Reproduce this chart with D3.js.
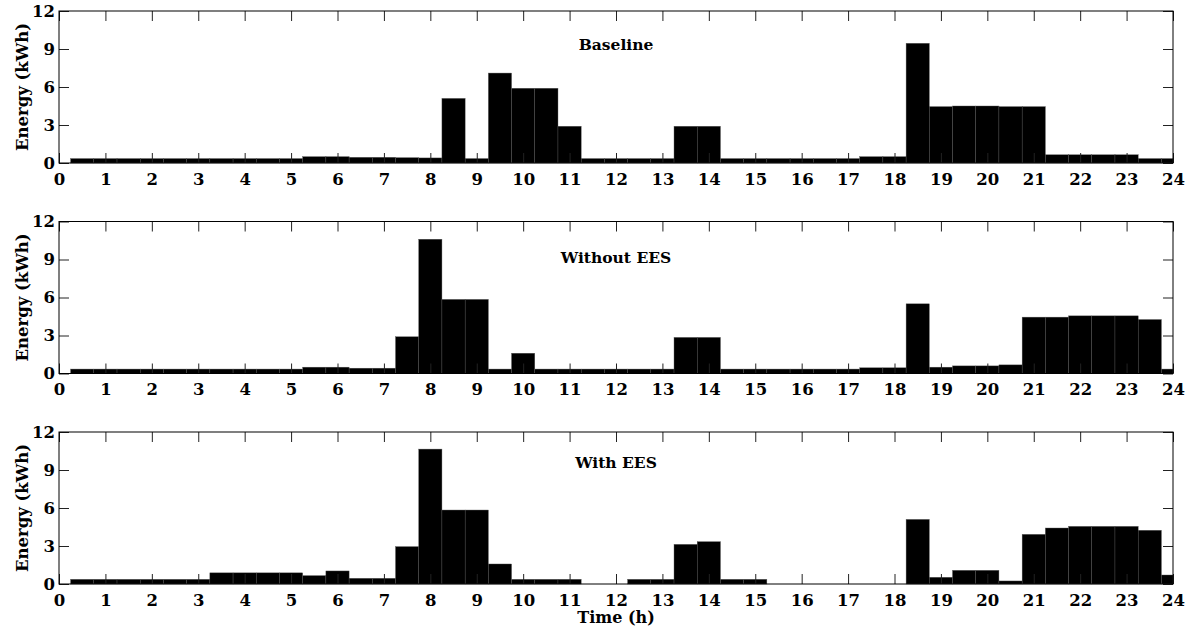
<!DOCTYPE html>
<html lang="en">
  <head>
    <meta charset="utf-8" />
    <title>Energy profiles</title>
    <script src="https://d3js.org/d3.v7.min.js"></script>
    <style>
      body { margin: 0; background: white; }
      text { font-family: "DejaVu Serif", serif; font-weight: bold; fill: black; }
    </style>
  </head>
  <body>
    <svg width="1192" height="634"></svg>
    <script type="text/javascript">
      // half-hour slots (bar centres, h)
      const hours = [0.5, 1, 1.5, 2, 2.5, 3, 3.5, 4, 4.5, 5, 5.5, 6, 6.5, 7, 7.5, 8,
        8.5, 9, 9.5, 10, 10.5, 11, 11.5, 12, 12.5, 13, 13.5, 14, 14.5, 15, 15.5, 16,
        16.5, 17, 17.5, 18, 18.5, 19, 19.5, 20, 20.5, 21, 21.5, 22, 22.5, 23, 23.5, 24];

      const baseline = [0.35, 0.35, 0.35, 0.35, 0.35, 0.35, 0.35, 0.35, 0.35, 0.35,
        0.5, 0.5, 0.45, 0.45, 0.42, 0.4, 5.1, 0.35, 7.1, 5.9, 5.9, 2.9,
        0.35, 0.35, 0.35, 0.35, 2.9, 2.9, 0.35, 0.35, 0.35, 0.35, 0.35, 0.35,
        0.5, 0.5, 9.45, 4.45, 4.5, 4.5, 4.45, 4.45, 0.65, 0.65, 0.65, 0.65, 0.35, 0.35];

      const withoutEES = [0.35, 0.35, 0.35, 0.35, 0.35, 0.35, 0.35, 0.35, 0.35, 0.35,
        0.5, 0.5, 0.42, 0.42, 2.9, 10.6, 5.85, 5.85, 0.35, 1.6,
        0.35, 0.35, 0.35, 0.35, 0.35, 0.35, 2.85, 2.85, 0.35, 0.35, 0.35, 0.35, 0.35, 0.35,
        0.45, 0.45, 5.5, 0.5, 0.6, 0.6, 0.68, 4.45, 4.45, 4.55, 4.55, 4.55, 4.26, 0.35];

      const withEES = [0.37, 0.37, 0.37, 0.37, 0.37, 0.37, 0.88, 0.88, 0.88, 0.88,
        0.66, 1.03, 0.45, 0.45, 2.95, 10.65, 5.84, 5.84, 1.58, 0.37, 0.37, 0.37,
        0, 0, 0.37, 0.37, 3.13, 3.34, 0.37, 0.37, 0, 0, 0, 0, 0, 0,
        5.1, 0.53, 1.08, 1.08, 0.24, 3.92, 4.42, 4.55, 4.55, 4.55, 4.24, 0.71];

      const panelTitles = ["Baseline", "Without EES", "With EES"];
      const xTicks = d3.range(0, 25);
      const yTicks = [0, 3, 6, 9, 12];

      const series = [baseline, withoutEES, withEES];

      const svg = d3.select("svg");
      const left = 59, plotW = 1114, plotH = 152;
      const tops = [11, 221.5, 432];
      const titleOffsets = [39, 41, 36];
      const barW = 0.5;

      const x = d3.scaleLinear().domain([0, 24]).range([0, plotW]).clamp(true);
      const y = d3.scaleLinear().domain([0, 12]).range([plotH, 0]);

      series.forEach((vals, p) => {
        const g = svg.append("g").attr("transform", `translate(${left},${tops[p]})`);
        const data = hours.map((h, i) => ({ h: h, v: vals[i] })).filter((d) => d.v > 0);

        g.append("g")
          .selectAll("rect")
          .data(data)
          .enter()
          .append("rect")
          .attr("x", (d) => x(d.h - barW / 2))
          .attr("width", (d) => x(d.h + barW / 2) - x(d.h - barW / 2))
          .attr("y", (d) => y(d.v))
          .attr("height", (d) => y(0) - y(d.v))
          .attr("fill", "black")
          .attr("stroke", "#555")
          .attr("stroke-width", 0.4);

        // inward ticks on all four sides
        const axes = [
          d3.axisBottom(x).tickValues(xTicks).tickSize(-10).tickPadding(10).tickFormat(d3.format("d")),
          d3.axisTop(x).tickValues(xTicks).tickSize(-10).tickFormat(""),
          d3.axisLeft(y).tickValues(yTicks).tickSize(-10).tickPadding(4),
          d3.axisRight(y).tickValues(yTicks).tickSize(-10).tickFormat(""),
        ];
        const shifts = [`translate(0,${plotH})`, "translate(0,0)", "translate(0,0)", `translate(${plotW},0)`];
        axes.forEach((ax, i) => {
          const a = g.append("g").attr("transform", shifts[i]).call(ax);
          a.select(".domain").remove();
          a.selectAll(".tick line").attr("stroke", "#222");
          a.selectAll("text").attr("font-size", 16.5).attr("font-family", "DejaVu Serif").attr("font-weight", "bold");
        });

        g.append("rect")
          .attr("width", plotW)
          .attr("height", plotH)
          .attr("fill", "none")
          .attr("stroke", "black")
          .attr("stroke-width", 1);

        g.append("text")
          .attr("x", plotW / 2)
          .attr("y", titleOffsets[p])
          .attr("text-anchor", "middle")
          .attr("font-size", 15.5)
          .text(panelTitles[p]);

        g.append("text")
          .attr("transform", `translate(-31,${plotH / 2}) rotate(-90)`)
          .attr("text-anchor", "middle")
          .attr("font-size", 16.5)
          .text("Energy (kWh)");
      });

      svg.append("text")
        .attr("x", left + plotW / 2)
        .attr("y", 623)
        .attr("text-anchor", "middle")
        .attr("font-size", 16)
        .text("Time (h)");
    </script>
  </body>
</html>
